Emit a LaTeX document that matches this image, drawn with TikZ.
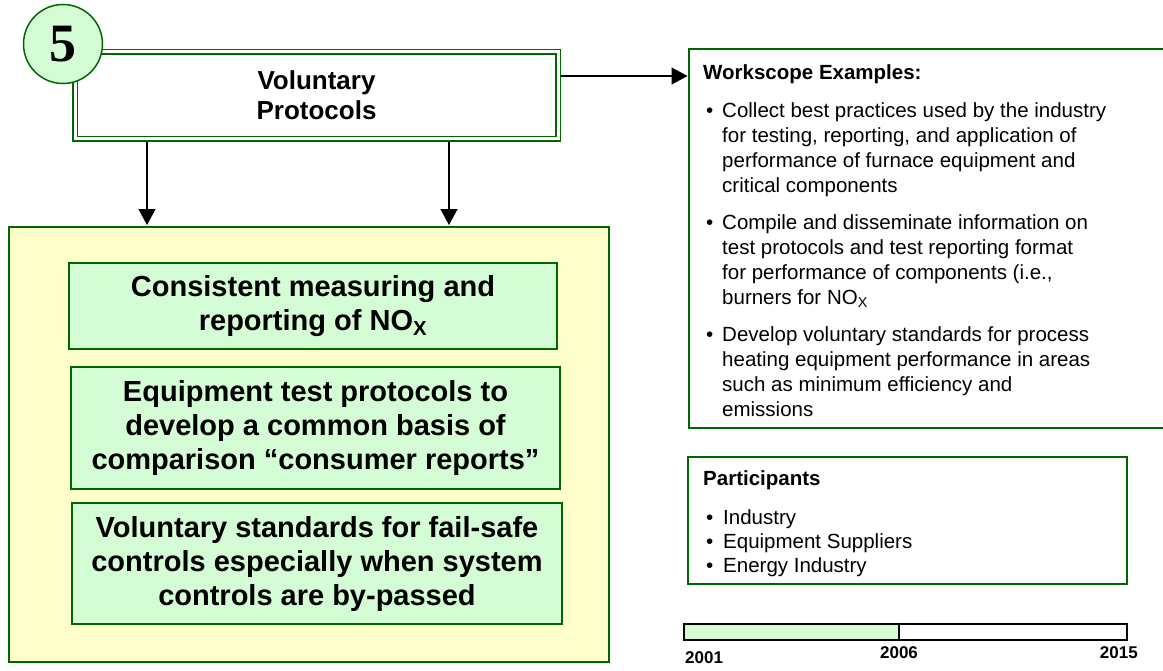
\documentclass[tikz,border=0pt]{standalone}
\usepackage{fontspec}
\setmainfont{Liberation Sans}
\newfontfamily\numfont{Liberation Serif}
\usetikzlibrary{arrows.meta, positioning}
\definecolor{dkgreen}{HTML}{006600}
\definecolor{ltgreen}{HTML}{D5FDD5}
\definecolor{ltyellow}{HTML}{FFFFCC}

\begin{document}
\begin{tikzpicture}[x=1pt, y=-1pt, >={Triangle[width=17pt,length=16pt]},
  goal/.style={draw=dkgreen, fill=ltgreen, line width=1.6pt, inner sep=0pt, align=center,
    font=\fontsize{29}{34}\selectfont\bfseries},
  frame/.style={draw=dkgreen, line width=1.6pt, inner sep=0pt, outer sep=0pt},
  line/.style={anchor=base west, inner sep=0pt, font=\fontsize{20.5}{24}\selectfont},
  head/.style={line, font=\fontsize{20.5}{24}\selectfont\bfseries},
  bar/.style={draw, line width=1.5pt, minimum height=16pt, inner sep=0pt, outer sep=0pt},
  year/.style={inner sep=0pt, font=\fontsize{17}{17}\selectfont\bfseries},
  arr/.style={->, line width=1.3pt}]
  \useasboundingbox (0,0) rectangle (1163,670);
  \clip (0,0) rectangle (1163,670);

  % left column
  \node[draw=dkgreen, line width=1.5pt, double, double distance=3pt, minimum width=483pt,
    minimum height=87pt, outer sep=3pt, align=center,
    font=\fontsize{26}{30}\selectfont\bfseries] at (316.5,95) (title) {Voluntary\\Protocols};
  \node[circle, draw=dkgreen, fill=ltgreen, line width=1.5pt, minimum size=79pt, inner sep=0pt,
    font=\numfont\fontsize{54}{54}\selectfont\bfseries] at (63,44) (num) {5};

  \node[frame, fill=ltyellow, minimum width=600pt, minimum height=435pt] at (309,444.5) (impact) {};
  \node[goal, minimum width=488pt, minimum height=86pt] at (313,306) (goal1)
    {Consistent measuring and\\reporting of NO\textsubscript{X}};
  \node[goal, minimum width=489pt, minimum height=122pt] at (315.5,428) (goal2)
    {Equipment test protocols to\\develop a common basis of\\comparison “consumer reports”};
  \node[goal, minimum width=490pt, minimum height=121pt] at (317,563.5) (goal3)
    {Voluntary standards for fail-safe\\controls especially when system\\controls are by-passed};

  % right column
  \node[frame, minimum width=491pt, minimum height=379pt] at (934.5,238.5) (scope) {};
  \node[head] at (703,79) (scope-head) {Workscope Examples:};
  \foreach \y [count=\i] in {117,229,341}
    \node[line] at (706,\y) (scope-dot-\i) {\textbullet};
  \foreach \y/\txt [count=\i] in {117/{Collect best practices used by the industry},
      142/{for testing, reporting, and application of},
      167/{performance of furnace equipment and},
      192/{critical components},
      229/{Compile and disseminate information on},
      254/{test protocols and test reporting format},
      279/{for performance of components (i.e.,},
      304/{burners for NO\textsubscript{X}},
      341/{Develop voluntary standards for process},
      366/{heating equipment performance in areas},
      391/{such as minimum efficiency and},
      416/{emissions}}
    \node[line] at (722,\y) (scope-line-\i) {\txt};

  \node[frame, minimum width=439pt, minimum height=127pt] at (907.5,520.5) (party) {};
  \node[head] at (703,485) (party-head) {Participants};
  \foreach \y/\txt [count=\i] in {524/Industry, 548/Equipment Suppliers, 572/Energy Industry} {
    \node[line] at (706,\y) (party-dot-\i) {\textbullet};
    \node[line] at (723,\y) (party-line-\i) {\txt};
  };

  % time span
  \node[bar, fill=ltgreen, minimum width=215pt] at (791.5,632) (span-done) {};
  \node[bar, minimum width=228pt, right=0pt of span-done] (span-rest) {};
  \node[year, anchor=west] at (685,658) (year-start) {2001};
  \node[year] at (span-done.east |- 0,653) (year-mid) {2006};
  \node[year, anchor=east] at (1138,653) (year-end) {2015};

  % connectors
  \coordinate (c1) at (147,0);
  \coordinate (c2) at (449,0);
  \coordinate (c3) at (0,76);
  \draw[arr, shorten >=2pt] (title.south -| c1) -- (impact.north -| c1);
  \draw[arr, shorten >=2pt] (title.south -| c2) -- (impact.north -| c2);
  \draw[arr, shorten >=1.5pt] (title.east |- c3) -- (scope.west |- c3);
\end{tikzpicture}
\end{document}
